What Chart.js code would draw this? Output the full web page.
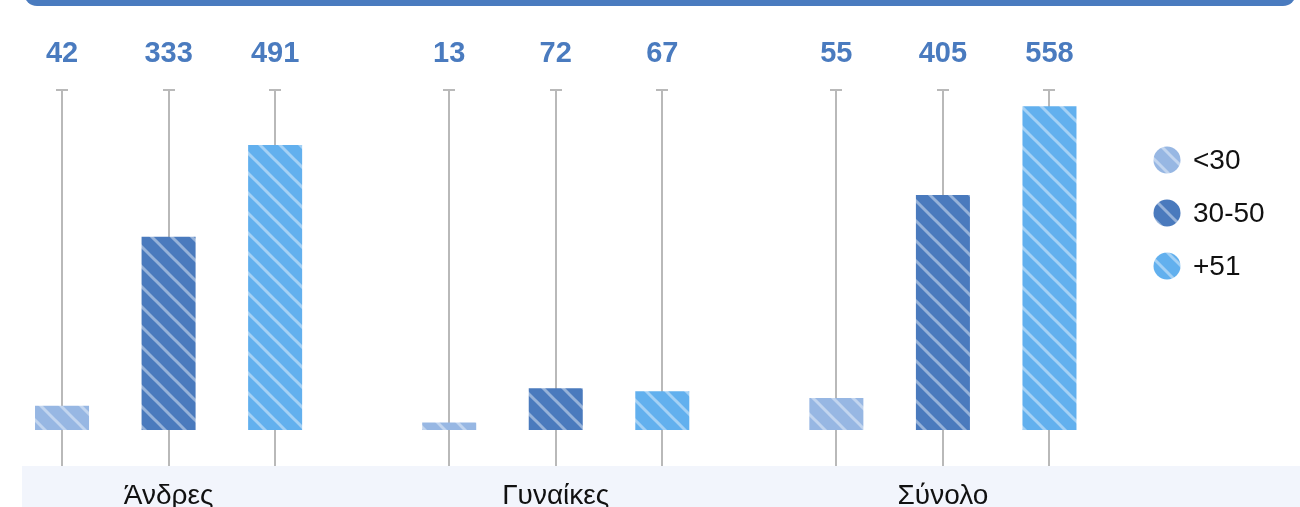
<!DOCTYPE html>
<html>
<head>
<meta charset="utf-8">
<script src="https://cdn.jsdelivr.net/npm/chart.js@4/dist/chart.umd.min.js"></script>
<style>
  html, body { margin: 0; padding: 0; background: #fff; overflow: hidden; }
  #stage { position: relative; width: 1300px; height: 507px; overflow: hidden; }
  #topBar { position: absolute; left: 24px; width: 1272px; top: -20px; height: 26px; border-radius: 14px; background: #4a7bbf; }
  #band { position: absolute; left: 22px; right: 0; top: 466px; bottom: 0; background: #f2f5fc; }
  #chart { position: absolute; left: -25px; top: 0; }
</style>
</head>
<body>
<div id="stage">
  <div id="band"></div>
  <canvas id="chart" width="1326" height="507"></canvas>
  <div id="topBar"></div>
</div>
<script>
// chart data
const categories = ['Άνδρες', 'Γυναίκες', 'Σύνολο'];
const seriesLabels = ['<30', '30-50', '+51'];
const under30 = [42, 13, 55];
const from30to50 = [333, 72, 405];
const over51 = [491, 67, 558];

const seriesColors = ['#97b7e3', '#4a7abd', '#62b0ee'];
const FONT = '"Liberation Sans", Arial, sans-serif';

// striped fill, white diagonal lines over the base colour
function makePattern(color) {
    const tile = document.createElement('canvas');
    tile.width = 20;
    tile.height = 20;
    const c = tile.getContext('2d');
    c.fillStyle = color;
    c.fillRect(0, 0, 20, 20);
    c.strokeStyle = 'rgba(255, 255, 255, 0.42)';
    c.lineWidth = 3;
    for (const k of [-20, 0, 20]) {
        c.beginPath();
        c.moveTo(k - 2, -2);
        c.lineTo(k + 22, 22);
        c.stroke();
    }
    return c.createPattern(tile, 'repeat');
}

const ctx = document.getElementById('chart').getContext('2d');
const patterns = seriesColors.map(makePattern);

// gray stems behind each bar, full height of the plot area
const stemPlugin = {
    id: 'stems',
    beforeDatasetsDraw(chart) {
        const { ctx, chartArea } = chart;
        ctx.save();
        ctx.strokeStyle = '#b9b9b9';
        ctx.lineWidth = 2;
        chart.data.datasets.forEach((ds, i) => {
            chart.getDatasetMeta(i).data.forEach(bar => {
                const x = Math.round(bar.x);
                ctx.beginPath();
                ctx.moveTo(x, chartArea.top);
                ctx.lineTo(x, chartArea.bottom);
                ctx.moveTo(x - 6, chartArea.top);
                ctx.lineTo(x + 6, chartArea.top);
                ctx.stroke();
            });
        });
        ctx.restore();
    }
};

// value numbers above the stems
const valuePlugin = {
    id: 'values',
    afterDatasetsDraw(chart) {
        const { ctx, chartArea } = chart;
        ctx.save();
        ctx.fillStyle = '#4a7bbf';
        ctx.font = 'bold 29px ' + FONT;
        ctx.textAlign = 'center';
        ctx.textBaseline = 'middle';
        chart.data.datasets.forEach((ds, i) => {
            chart.getDatasetMeta(i).data.forEach((bar, j) => {
                ctx.fillText(String(ds.data[j]), bar.x, chartArea.top - 36);
            });
        });
        ctx.restore();
    }
};

// legend with round patterned markers on the right
const legendPlugin = {
    id: 'sideLegend',
    afterDraw(chart) {
        const { ctx, chartArea } = chart;
        ctx.save();
        ctx.font = '28px ' + FONT;
        ctx.textBaseline = 'middle';
        ctx.textAlign = 'left';
        chart.data.datasets.forEach((ds, i) => {
            const cx = chartArea.right + 30.5;
            const cy = chartArea.top + 70 + i * 53;
            ctx.fillStyle = ds.backgroundColor;
            ctx.beginPath();
            ctx.arc(cx, cy, 13.5, 0, 2 * Math.PI);
            ctx.fill();
            ctx.fillStyle = '#111111';
            ctx.fillText(ds.label, cx + 26, cy + 1);
        });
        ctx.restore();
    }
};

const seriesData = [under30, from30to50, over51];

new Chart(ctx, {
    type: 'bar',
    data: {
        labels: categories,
        datasets: seriesLabels.map((label, i) => ({
            label: label,
            data: seriesData[i],
            backgroundColor: patterns[i],
            borderWidth: 0,
            categoryPercentage: 0.8256,
            barPercentage: 0.507
        }))
    },
    options: {
        responsive: false,
        animation: false,
        devicePixelRatio: 1,
        layout: {
            padding: { left: 0, right: 164.5, top: 90, bottom: 0 }
        },
        plugins: {
            legend: { display: false },
            tooltip: { enabled: false }
        },
        scales: {
            x: {
                grid: { display: false, drawTicks: false },
                border: { display: false },
                ticks: {
                    color: '#111111',
                    padding: 13,
                    font: { family: FONT, size: 28 }
                },
                afterFit(axis) { axis.height = 41; }
            },
            y: {
                display: false,
                min: -62,
                max: 586
            }
        }
    },
    plugins: [stemPlugin, valuePlugin, legendPlugin]
});
</script>
</body>
</html>
